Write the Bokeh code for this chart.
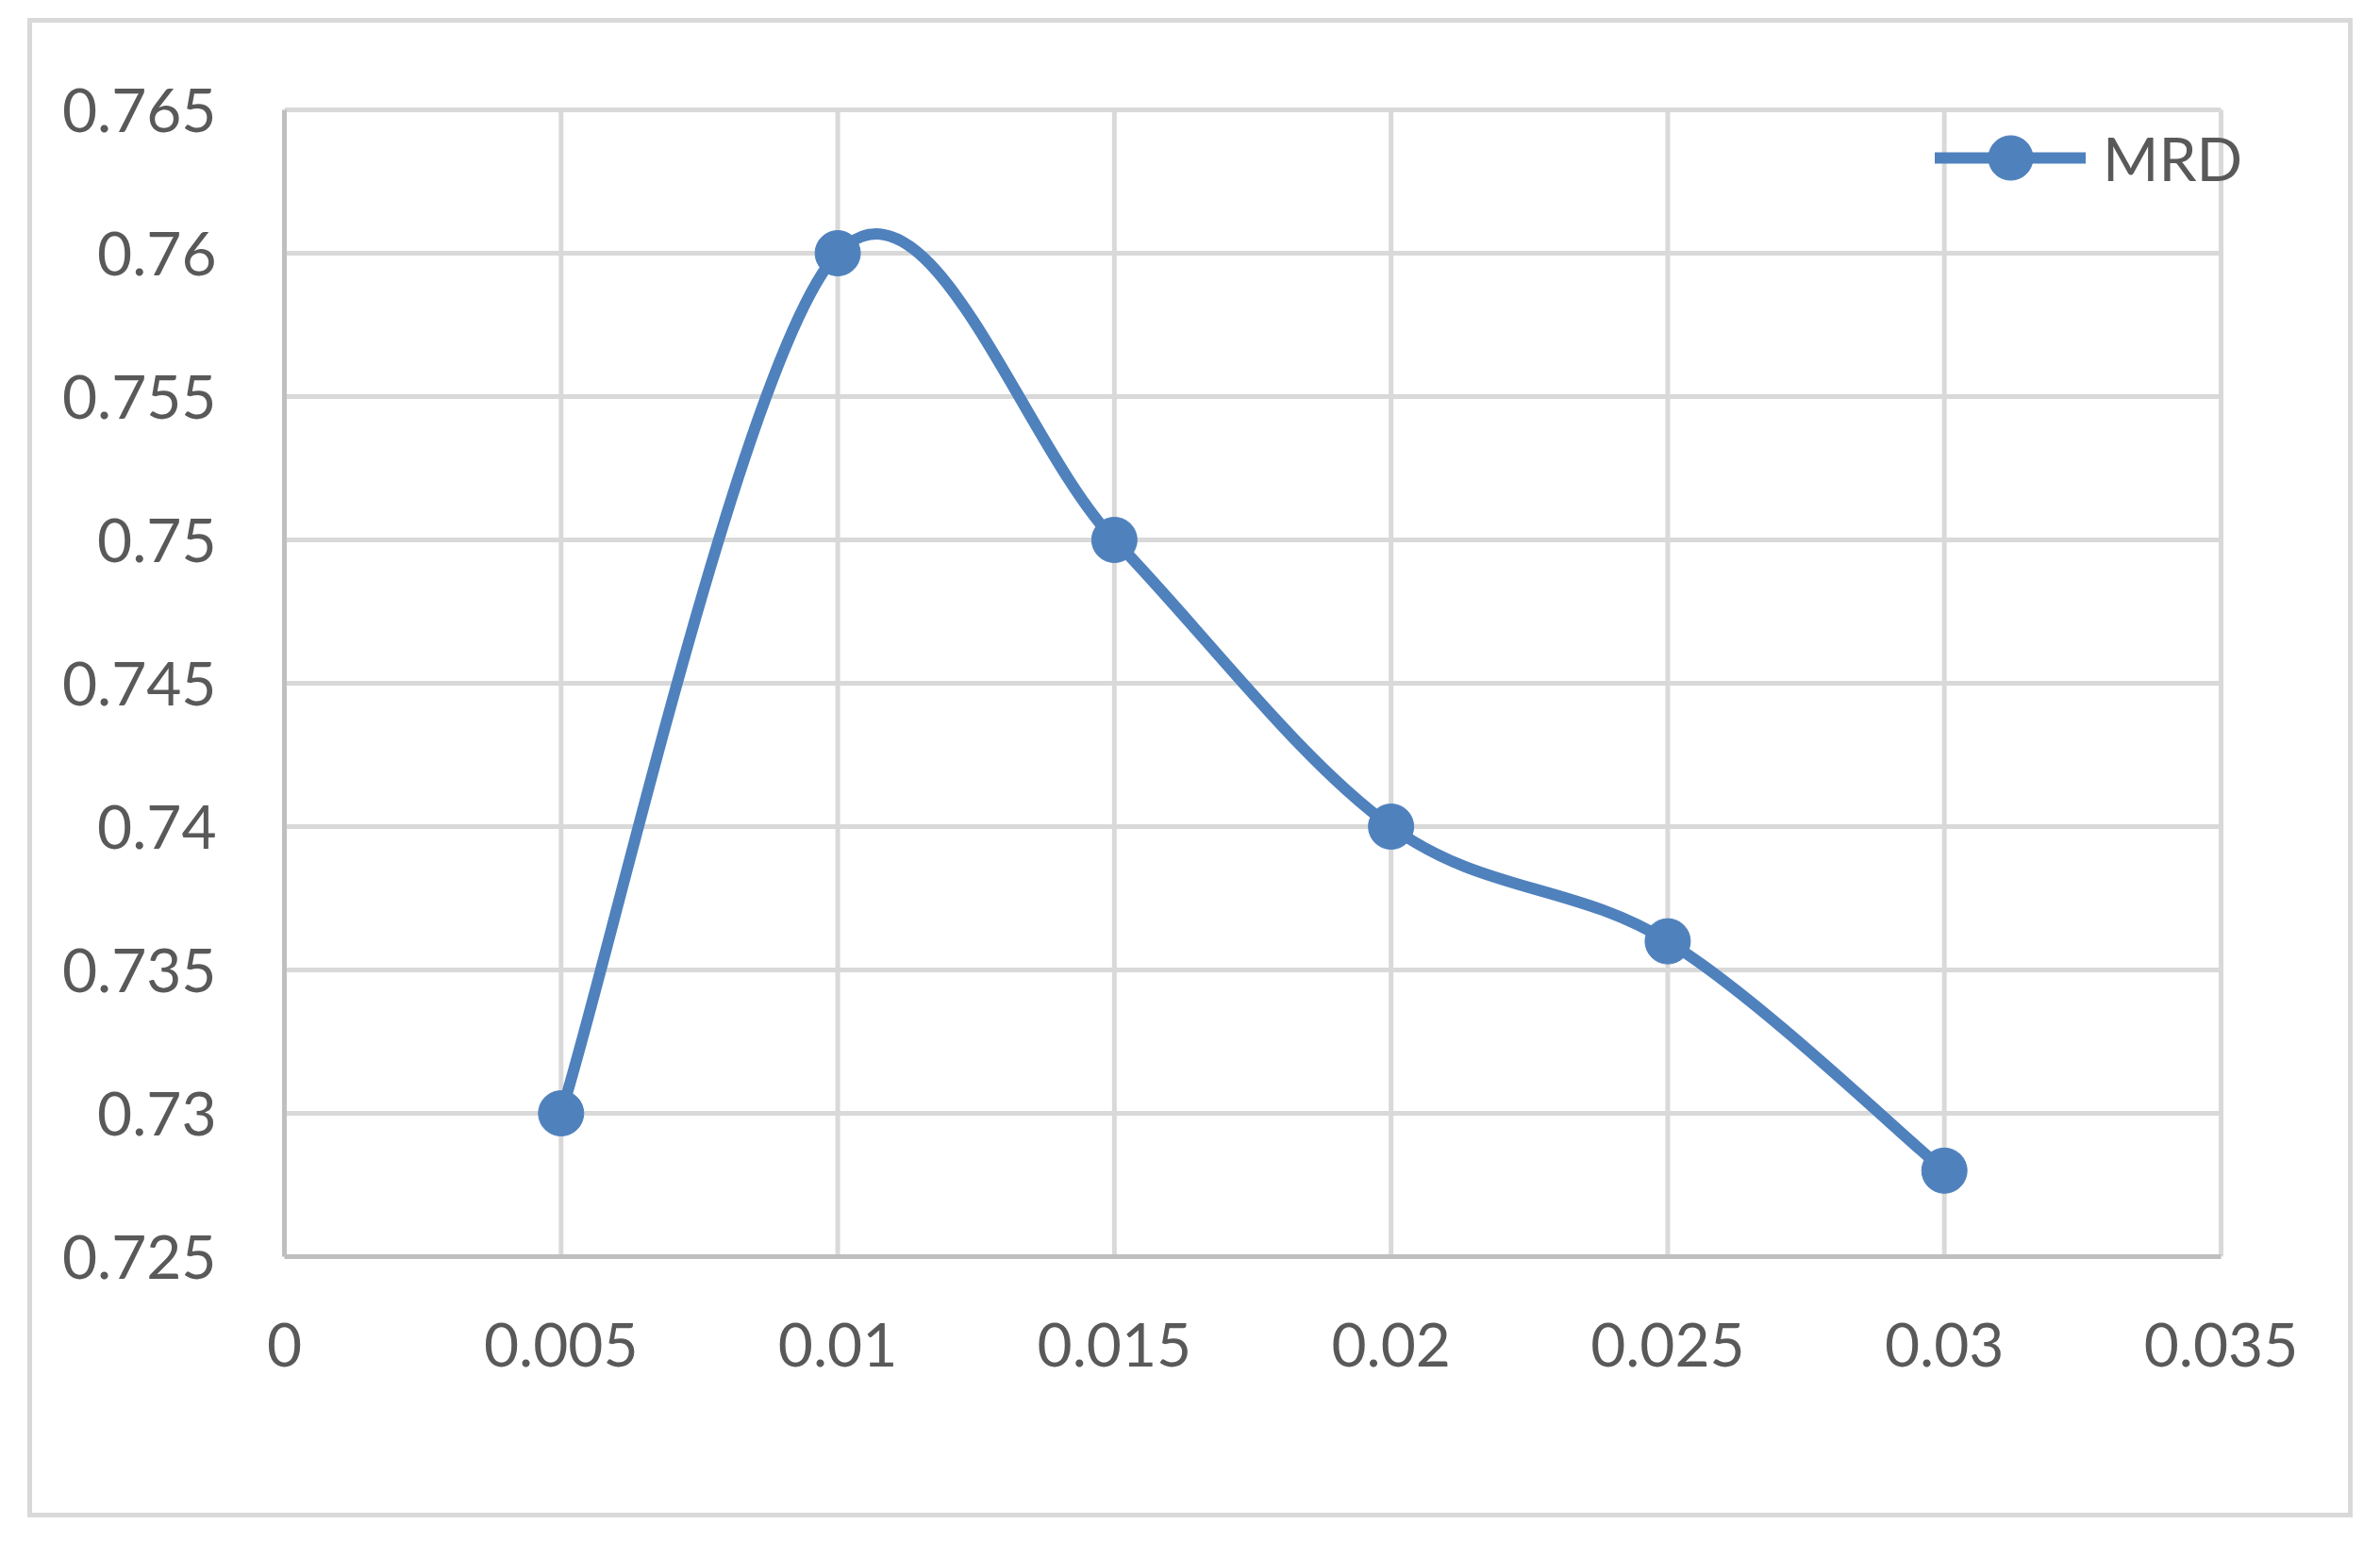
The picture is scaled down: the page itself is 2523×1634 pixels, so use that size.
from bokeh.plotting import figure
from bokeh.models import Range1d, FixedTicker, Legend, LegendItem
from bokeh.embed import file_html
from bokeh.resources import INLINE

# ---- data ----
x_vals = [0.005, 0.01, 0.015, 0.02, 0.025, 0.03]
mrd_vals = [0.730, 0.760, 0.750, 0.740, 0.736, 0.728]
series_name = "MRD"

x_ticks = [0, 0.005, 0.01, 0.015, 0.02, 0.025, 0.03, 0.035]
x_tick_labels = ["0", "0.005", "0.01", "0.015", "0.02", "0.025", "0.03", "0.035"]
y_ticks = [0.725, 0.73, 0.735, 0.74, 0.745, 0.75, 0.755, 0.76, 0.765]
y_tick_labels = ["0.725", "0.73", "0.735", "0.74", "0.745", "0.75", "0.755", "0.76", "0.765"]

# ---- style ----
BLUE = "#4F81BD"
GRID = "#D9D9D9"
AXIS = "#BFBFBF"
TEXT = "#595959"
FONT = "Lato"
FS = "64px"

# geometry (pixels)
DATA_W, DATA_H = 2053, 1216     # area spanned by the axes' data extent
EXTRA_R, EXTRA_T = 70, 10       # room so that the legend text is not clipped
CANVAS_W, CANVAS_H = 2455, 1580
LEFT, TOP = 267, 82

x_lo, x_hi = min(x_ticks), max(x_ticks)
y_lo, y_hi = min(y_ticks), max(y_ticks)
x_end = x_hi + (x_hi - x_lo) * EXTRA_R / DATA_W
y_end = y_hi + (y_hi - y_lo) * EXTRA_T / DATA_H

p = figure(
    frame_width=DATA_W + EXTRA_R, frame_height=DATA_H + EXTRA_T,
    min_border_left=LEFT, min_border_right=CANVAS_W - LEFT - DATA_W - EXTRA_R,
    min_border_top=TOP, min_border_bottom=CANVAS_H - TOP - DATA_H - EXTRA_T,
    x_range=Range1d(x_lo, x_end), y_range=Range1d(y_lo, y_end),
    output_backend="svg", toolbar_location=None,
)
p.styles = {"border": f"5px solid {GRID}", "margin-left": "29px", "margin-top": "19px"}
p.background_fill_color = "white"
p.border_fill_color = "white"
p.outline_line_color = None
p.xgrid.visible = False
p.ygrid.visible = False

for ax, ticks, labels in ((p.xaxis[0], x_ticks, x_tick_labels), (p.yaxis[0], y_ticks, y_tick_labels)):
    ax.ticker = FixedTicker(ticks=ticks)
    ax.major_label_overrides = {t: l for t, l in zip(ticks, labels)}
    ax.bounds = (min(ticks), max(ticks))
    ax.major_tick_line_color = None
    ax.minor_tick_line_color = None
    ax.major_tick_out = 0
    ax.major_tick_in = 0
    ax.axis_line_color = AXIS
    ax.axis_line_width = 5
    ax.major_label_text_font = FONT
    ax.major_label_text_font_size = FS
    ax.major_label_text_color = TEXT
p.xaxis.major_label_standoff = 70
p.yaxis.major_label_standoff = 72

# gridlines at the tick values, spanning the axes' extent
p.segment(x0=x_ticks, y0=[y_lo] * len(x_ticks), x1=x_ticks, y1=[y_hi] * len(x_ticks),
          line_color=GRID, line_width=5)
p.segment(x0=[x_lo] * len(y_ticks), y0=y_ticks, x1=[x_hi] * len(y_ticks), y1=y_ticks,
          line_color=GRID, line_width=5)

# smooth (Excel-style) curve via cubic Bezier segments through the data points
n = len(x_vals)
bx0, by0, bx1, by1, bcx0, bcy0, bcx1, bcy1 = [], [], [], [], [], [], [], []
for i in range(n - 1):
    i0 = max(i - 1, 0)
    i3 = min(i + 2, n - 1)
    x0, y0 = x_vals[i0], mrd_vals[i0]
    x1, y1 = x_vals[i], mrd_vals[i]
    x2, y2 = x_vals[i + 1], mrd_vals[i + 1]
    x3, y3 = x_vals[i3], mrd_vals[i3]
    bx0.append(x1); by0.append(y1)
    bx1.append(x2); by1.append(y2)
    bcx0.append(x1 + (x2 - x0) / 6); bcy0.append(y1 + (y2 - y0) / 6)
    bcx1.append(x2 - (x3 - x1) / 6); bcy1.append(y2 - (y3 - y1) / 6)

curve = p.bezier(x0=bx0, y0=by0, x1=bx1, y1=by1, cx0=bcx0, cy0=bcy0, cx1=bcx1, cy1=bcy1,
                 line_color=BLUE, line_width=12, line_cap="round")
pts = p.scatter(x_vals, mrd_vals, size=48, fill_color=BLUE, line_color=BLUE, line_width=1)

legend = Legend(
    items=[LegendItem(label=series_name, renderers=[curve, pts])],
    location=(1750, 1106),
    glyph_width=160, glyph_height=118,
    label_text_font=FONT, label_text_font_size=FS, label_text_color=TEXT,
    label_standoff=18, padding=0, margin=0, spacing=0,
    border_line_alpha=0, background_fill_alpha=0,
)
p.add_layout(legend)

open("out.html", "w").write(file_html(p, INLINE))
